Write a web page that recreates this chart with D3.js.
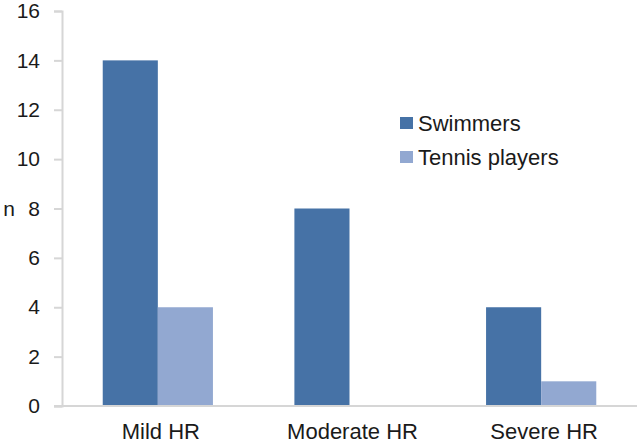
<!DOCTYPE html>
<html>
<head>
<meta charset="utf-8">
<script src="https://cdn.jsdelivr.net/npm/d3@7"></script>
<style>
    body { margin: 0; background: #fff; }
    text { font-family: "Liberation Sans", Arial, sans-serif; fill: #1a1a1a; }
</style>
</head>
<body>
<div id="chart"></div>
<script>
    var categories = ["Mild HR", "Moderate HR", "Severe HR"];
    var seriesNames = ["Swimmers", "Tennis players"];
    var swimmers = [14, 8, 4];
    var tennisPlayers = [4, 0, 1];
    var yTicks = [0, 2, 4, 6, 8, 10, 12, 14, 16];

    var width = 637, height = 444;
    var margin = { top: 11, right: 0, bottom: 38, left: 62 };
    var colors = ["#4672a6", "#92a8d1"];

    var svg = d3.select("#chart").append("svg")
        .attr("width", width)
        .attr("height", height);

    var x0 = d3.scaleBand()
        .domain(categories)
        .range([margin.left, width - margin.right])
        .paddingInner(0.425)
        .paddingOuter(0.2125);

    var x1 = d3.scaleBand()
        .domain(seriesNames)
        .range([0, x0.bandwidth()]);

    var y = d3.scaleLinear()
        .domain([0, 16])
        .range([height - margin.bottom, margin.top]);

    var rows = categories.map(function (c, i) {
        return { category: c, values: [swimmers[i], tennisPlayers[i]] };
    });

    // y axis
    var yAxis = svg.append("g")
        .attr("transform", "translate(" + margin.left + ",0)")
        .call(d3.axisLeft(y).tickValues(yTicks).tickSize(8).tickPadding(14));
    yAxis.select(".domain").attr("stroke", "#d6d6d6").attr("stroke-width", 2);
    yAxis.selectAll(".tick line").attr("stroke", "#d6d6d6").attr("stroke-width", 2);
    yAxis.selectAll(".tick text").attr("font-size", "21px").attr("fill", "#1a1a1a")
        .style("font-family", "Liberation Sans, Arial, sans-serif");

    // bars
    var groups = svg.selectAll(".grp")
        .data(rows)
        .enter().append("g")
        .attr("class", "grp")
        .attr("transform", function (d) { return "translate(" + x0(d.category) + ",0)"; });

    groups.selectAll("rect")
        .data(function (d) { return d.values.map(function (v, i) { return { name: seriesNames[i], value: v, i: i }; }); })
        .enter().append("rect")
        .attr("x", function (d) { return x1(d.name); })
        .attr("y", function (d) { return y(d.value); })
        .attr("width", x1.bandwidth())
        .attr("height", function (d) { return y(0) - y(d.value); })
        .attr("fill", function (d) { return colors[d.i]; });

    // x axis
    svg.append("line")
        .attr("x1", margin.left - 8)
        .attr("x2", width)
        .attr("y1", y(0))
        .attr("y2", y(0))
        .attr("stroke", "#d6d6d6")
        .attr("stroke-width", 2);

    svg.selectAll(".xlab")
        .data(categories)
        .enter().append("text")
        .attr("class", "xlab")
        .attr("x", function (d) { return x0(d) + x0.bandwidth() / 2 + 3; })
        .attr("y", height - 5)
        .attr("text-anchor", "middle")
        .attr("font-size", "22px")
        .text(function (d) { return d; });

    // y label
    svg.append("text")
        .attr("x", 9)
        .attr("y", y(8))
        .attr("dy", "0.35em")
        .attr("text-anchor", "middle")
        .attr("font-size", "21px")
        .text("n");

    // legend
    var legend = svg.append("g").attr("transform", "translate(400,117)");
    var items = legend.selectAll(".item")
        .data(seriesNames)
        .enter().append("g")
        .attr("transform", function (d, i) { return "translate(0," + i * 34 + ")"; });
    items.append("rect")
        .attr("width", 13)
        .attr("height", 12)
        .attr("fill", function (d, i) { return colors[i]; });
    items.append("text")
        .attr("x", 18)
        .attr("y", 6)
        .attr("dy", "0.35em")
        .attr("font-size", "22px")
        .text(function (d) { return d; });
</script>
</body>
</html>
